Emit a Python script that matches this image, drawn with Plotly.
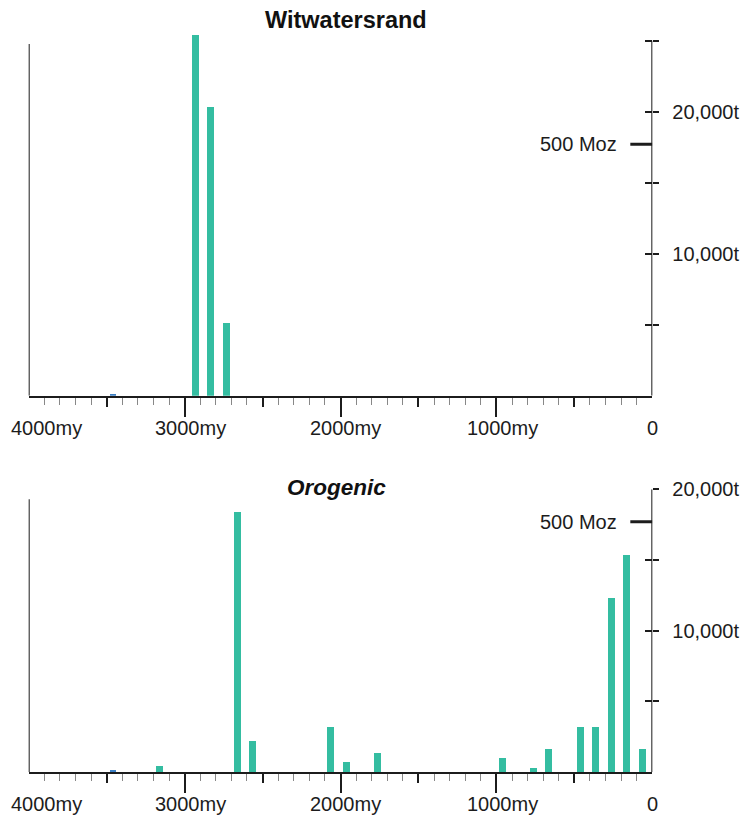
import plotly.graph_objects as go

# Gold endowment by age bin (million years before present) -> tonnes
wit_age = [2935, 2835, 2735]
wit_tonnes = [25400, 20330, 5140]

oro_age = [3165, 2665, 2565, 2065, 1965, 1765, 965, 765, 665, 465, 365, 265, 165, 65]
oro_tonnes = [420, 18400, 2200, 3160, 700, 1300, 1000, 240, 1600, 3160, 3160, 12300, 15350, 1600]

# Paleoarchean trace amounts (plotted in blue)
early_age = [3460]
wit_early = [150]
oro_early = [150]

x_tick_vals = [4000, 3000, 2000, 1000, 0]
x_tick_text = ["4000my", "3000my", "2000my", "1000my", "0"]

wit_y_vals = [5000, 10000, 15000, 20000, 25000]
wit_y_text = ["", "10,000t", "", "20,000t", ""]
oro_y_vals = [5000, 10000, 15000, 20000]
oro_y_text = ["", "10,000t", "", "20,000t"]

MOZ_LABEL = "500 Moz"
MOZ_LEVEL = 17700  # marker level on the tonnes scale

TEAL = "#34bda1"
BLUE = "#3b7fc4"
INK = "#1c1c1c"
FONT = "Liberation Sans, Arial, sans-serif"

W, H = 753, 817
X_DOM = [0.0381, 0.8663]
TOP_DOM = [0.51567, 0.95887]
BOT_DOM = [0.05508, 0.40110]
TOP_RANGE = [0, 25500]
BOT_RANGE = [0, 20000]

# label nudges (px) for the age labels
label_shift = [18, 6, 5, 6, 0]

fig = go.Figure()

BAR_W = 45

fig.add_trace(go.Bar(x=wit_age, y=wit_tonnes, width=BAR_W, marker=dict(color=TEAL, line_width=0),
                     xaxis="x", yaxis="y", showlegend=False, hoverinfo="skip"))
fig.add_trace(go.Bar(x=early_age, y=wit_early, width=35, marker=dict(color=BLUE, line_width=0),
                     xaxis="x", yaxis="y", showlegend=False, hoverinfo="skip"))
fig.add_trace(go.Bar(x=oro_age, y=oro_tonnes, width=BAR_W, marker=dict(color=TEAL, line_width=0),
                     xaxis="x2", yaxis="y2", showlegend=False, hoverinfo="skip"))
fig.add_trace(go.Bar(x=early_age, y=oro_early, width=35, marker=dict(color=BLUE, line_width=0),
                     xaxis="x2", yaxis="y2", showlegend=False, hoverinfo="skip"))

# empty traces that carry the overlay axes (half-length ticks and inward ticks)
for xa, ya in (("x3", "y3"), ("x4", "y4")):
    fig.add_trace(go.Scatter(x=[None], y=[None], xaxis=xa, yaxis=ya, mode="markers",
                             showlegend=False, hoverinfo="skip"))

minor_vals = [v for v in range(100, 4000, 100) if v % 500 != 0]


def main_x(anchor):
    return dict(domain=X_DOM, range=[4000, 0], anchor=anchor, showgrid=False, zeroline=False,
                automargin=False, showline=True, linecolor=INK, linewidth=2,
                tickmode="array", tickvals=[1000, 2000, 3000], ticks="outside", ticklen=19,
                tickwidth=2, tickcolor=INK, showticklabels=False,
                minor=dict(tickmode="array", tickvals=minor_vals, ticks="outside", ticklen=7,
                           tickwidth=1.3, tickcolor="#888888"))


def half_x(anchor, overlay):
    return dict(domain=X_DOM, range=[4000, 0], anchor=anchor, overlaying=overlay, showgrid=False,
                zeroline=False, showline=False, automargin=False,
                tickmode="array", tickvals=[500, 1500, 2500, 3500],
                ticks="outside", ticklen=10, tickwidth=2, tickcolor=INK, showticklabels=False)


def main_y(anchor, dom, rng, vals, text):
    return dict(domain=dom, range=rng, anchor=anchor, side="right", showgrid=False, zeroline=False,
                showline=False, automargin=False, tickmode="array", tickvals=vals, ticktext=text,
                ticks="outside", ticklen=6, tickwidth=2, tickcolor=INK, ticklabelstandoff=9,
                tickfont=dict(family=FONT, size=20, color=INK))


def inner_y(anchor, overlay, dom, rng, vals):
    return dict(domain=dom, range=rng, anchor=anchor, overlaying=overlay, side="right",
                showgrid=False, zeroline=False, showline=False, automargin=False,
                tickmode="array", tickvals=vals,
                ticks="inside", ticklen=7, tickwidth=2, tickcolor=INK, showticklabels=False)


fig.update_layout(
    width=W, height=H, margin=dict(l=0, r=0, t=0, b=0, autoexpand=False),
    paper_bgcolor="white", plot_bgcolor="white", bargap=0,
    xaxis=main_x("y"),
    yaxis=main_y("x", TOP_DOM, TOP_RANGE, wit_y_vals, wit_y_text),
    xaxis2=main_x("y2"),
    yaxis2=main_y("x2", BOT_DOM, BOT_RANGE, oro_y_vals, oro_y_text),
    xaxis3=half_x("y3", "x"),
    yaxis3=inner_y("x3", "y", TOP_DOM, TOP_RANGE, wit_y_vals),
    xaxis4=half_x("y4", "x2"),
    yaxis4=inner_y("x4", "y2", BOT_DOM, BOT_RANGE, oro_y_vals),
)

shapes = []
annotations = []

panels = [
    ("x", "y", 25000, 24770, "<b>Witwatersrand</b>", 0.9760, 23.5),
    ("x2", "y2", 20000, 19290, "<b><i>Orogenic</i></b>", 0.4027, 22.5),
]
title_x = [346 / W, 336 / W]

for i, (xr, yr, right_top, left_top, title, ty, tsize) in enumerate(panels):
    # right and left axis lines
    shapes.append(dict(type="line", xref=xr, yref=yr, x0=0, x1=0, y0=0, y1=right_top,
                       line=dict(color=INK, width=2)))
    shapes.append(dict(type="line", xref=xr, yref=yr, x0=4000, x1=4000, y0=0, y1=left_top,
                       line=dict(color=INK, width=2)))
    # 500 Moz marker
    shapes.append(dict(type="line", xref=xr, yref=yr, xsizemode="pixel", xanchor=0,
                       x0=-22, x1=0, y0=MOZ_LEVEL, y1=MOZ_LEVEL, line=dict(color=INK, width=3)))
    annotations.append(dict(xref=xr, yref=yr, x=0, y=MOZ_LEVEL, text=MOZ_LABEL, showarrow=False,
                            xanchor="right", yanchor="middle", xshift=-33,
                            font=dict(family=FONT, size=20, color=INK)))
    # age labels under the axis
    for v, t, s in zip(x_tick_vals, x_tick_text, label_shift):
        annotations.append(dict(xref=xr, yref=yr, x=v, y=0, text=t, showarrow=False,
                                xanchor="center", yanchor="middle", xshift=s, yshift=-32,
                                font=dict(family=FONT, size=20, color=INK)))
    annotations.append(dict(xref="paper", yref="paper", x=title_x[i], y=ty, text=title,
                            showarrow=False, xanchor="center", yanchor="middle",
                            font=dict(family=FONT, size=tsize, color="#111111")))

fig.update_layout(shapes=shapes, annotations=annotations)

fig.write_html("out.html")
